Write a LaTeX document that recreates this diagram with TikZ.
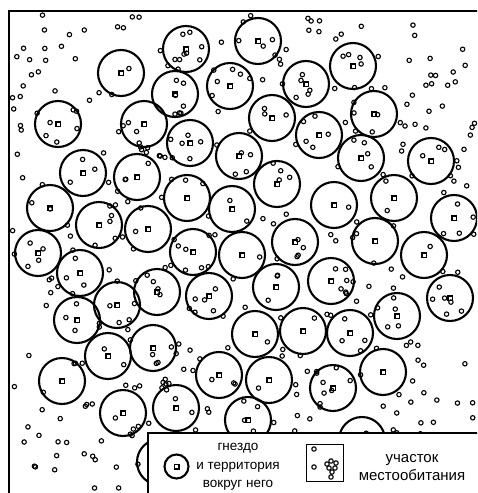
\documentclass[tikz,border=0pt]{standalone}
\usepackage{fontspec}
\setmainfont{Liberation Sans}
\begin{document}
\begin{tikzpicture}[x=1pt, y=-1pt]

\tikzset{
  terr/.style={line width=2.1pt},
  nestsq/.style={line width=1.6pt},
  plantdot/.style={line width=1.1pt},
  frameline/.style={line width=1.9pt},
  legendtext/.style={align=center},
}

\useasboundingbox (0,0) rectangle (477,493);
\clip (0,0) rectangle (477,493);

% scattered habitat patches
\pgfmathsetseed{2718}
\foreach \i in {1,...,480}{
  \pgfmathsetmacro{\px}{12+463*rnd}
  \pgfmathsetmacro{\py}{14+477*rnd}
  \draw[plantdot] (\px,\py) circle (2.2);
}

% nests and territories
\foreach \cx/\cy in {121/73, 58/124, 144/124, 186/49, 258/41, 230/86, 175/94,
    306/84, 272/118, 190/143, 239/156, 319/135, 353/66, 374/114, 361/158,
    431/161, 83/173, 137/177, 50/208, 99/225, 148/229, 38/253, 80/273,
    117/305, 157/292, 77/320, 187/198, 232/209, 277/184, 193/252, 242/255,
    295/242, 209/296, 276/287, 334/205, 394/198, 454/218, 375/241, 424/255,
    331/281, 450/298, 397/316, 108/356, 153/348, 62/381, 123/413, 160/462,
    255/334, 303/331, 219/375, 269/380, 176/408, 248/420, 350/333, 383/372,
    333/388, 362/440}{
  \draw[terr] (\cx,\cy) circle (23);
  \draw[nestsq] (\cx-2.3,\cy-2.3) rectangle (\cx+2.3,\cy+2.3);
}

\draw[frameline] (9,495) -- (9,11) -- (479,11);

% legend
\draw[frameline, fill=white] (148,433) rectangle (490,500);

\draw[terr] (176.5,466.5) circle (12);
\draw[nestsq] (174.3,464.3) rectangle (178.7,468.7);
\node[legendtext, font=\fontsize{13.5}{18.5}\selectfont] (nestlabel) at (238,467) {гнездо\\и территория\\вокруг него};

\node[draw, line width=0.9pt, minimum size=37pt, inner sep=0pt] (habbox) at (324.5,463) {};
\foreach \dx/\dy in {314/449, 314/467, 327/464, 331/461, 336/463, 329/468,
    335/468, 332/472, 331/477}{
  \draw[plantdot] (\dx,\dy) circle (2.2);
}
\node[legendtext, font=\fontsize{15}{18}\selectfont] (habitatlabel) at (412,468) {участок\\местообитания};

\end{tikzpicture}
\end{document}
